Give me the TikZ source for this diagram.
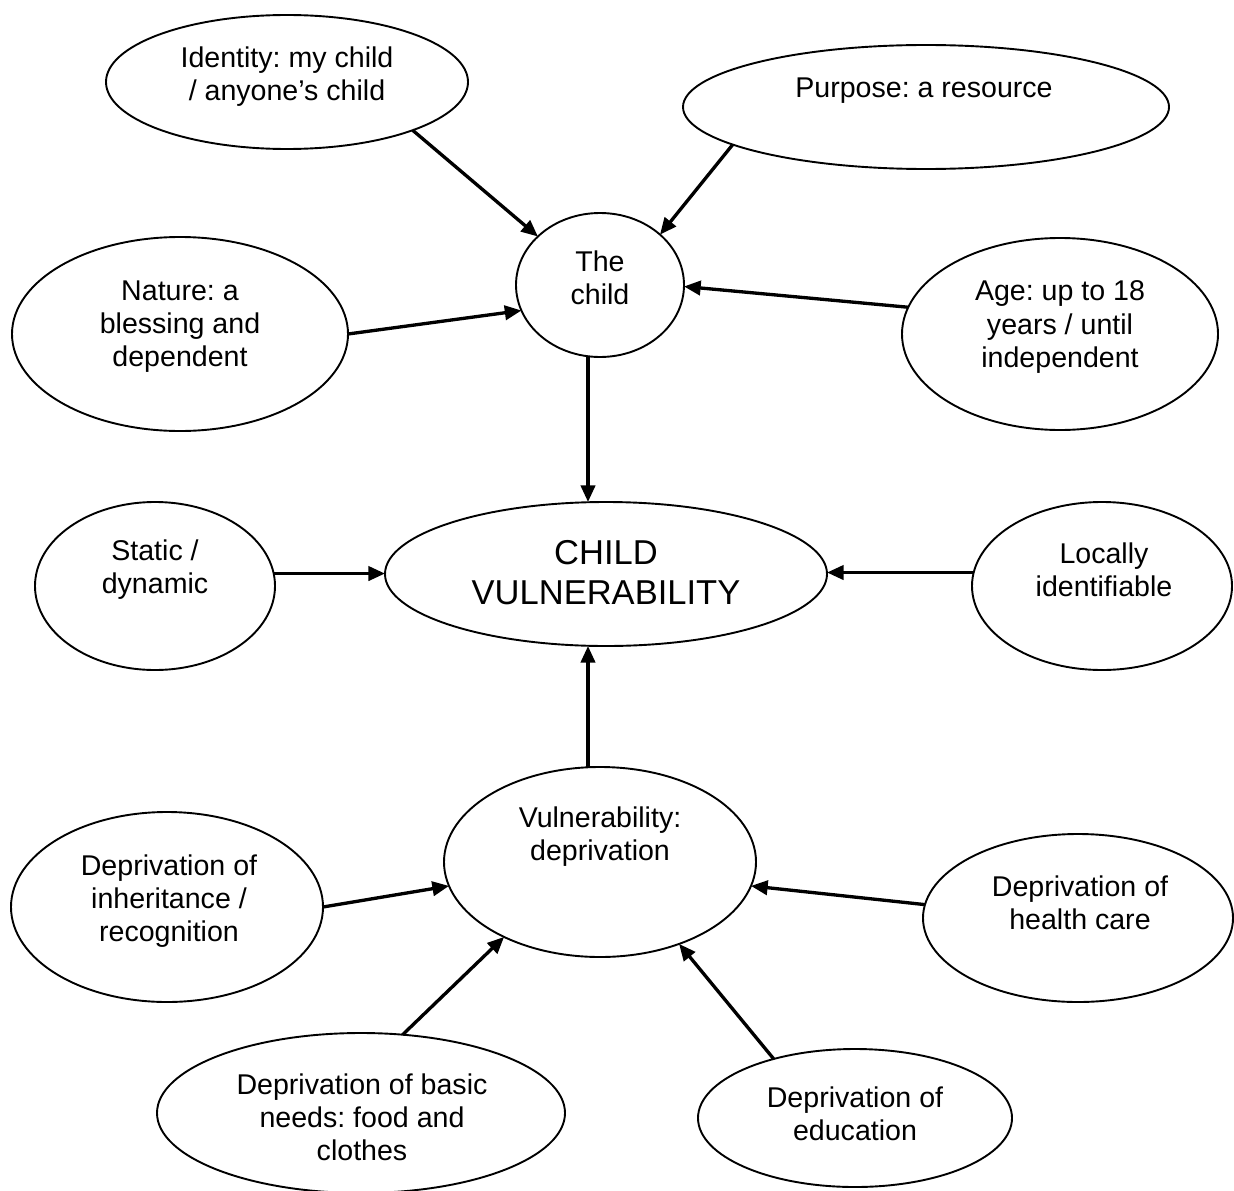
\documentclass[tikz,border=0pt]{standalone}
\usepackage{fontspec}
\setmainfont{Liberation Sans}
\frenchspacing
\usetikzlibrary{shapes.geometric,arrows.meta}
\tikzset{
  bub/.style 2 args={ellipse,draw,line width=0.8pt,inner sep=0pt,outer sep=0pt,
    minimum width=#1*0.84pt,minimum height=#2*0.84pt},
  txt/.style={align=center,inner sep=0pt,font=\fontsize{12}{13.9}\selectfont},
  arr/.style={line width=1.4pt,-{Triangle[length=7pt,width=6pt]}}
}
\begin{document}
\begin{tikzpicture}[x=0.42pt,y=-0.42pt]
\useasboundingbox (0,0) rectangle (1234,1190);
\node[bub={181}{67}] (ident) at (287,82) {};
\node[bub={243}{62}] (purp) at (926,107) {};
\node[bub={84}{72}] (child) at (600,285) {};
\node[bub={168}{97}] (nat) at (180,334) {};
\node[bub={158}{96}] (age) at (1060,334) {};
\node[bub={120}{84}] (stat) at (155,586) {};
\node[bub={221}{72}] (cv) at (606,574) {};
\node[bub={130}{84}] (loc) at (1102,586) {};
\node[bub={156}{95}] (vuln) at (600,862) {};
\node[bub={156}{95}] (inh) at (167,907) {};
\node[bub={155}{84}] (hlth) at (1078,918) {};
\node[bub={204}{80}] (basic) at (361,1113) {};
\node[bub={157}{69}] (edu) at (855,1118) {};
\node[txt] (identtxt) at (287,77) {Identity: my child\\/ anyone’s child};
\node[txt] (purptxt) at (924,91) {Purpose: a resource};
\node[txt] (childtxt) at (600,278) {The\\child};
\node[txt] (nattxt) at (180,327) {Nature: a\\blessing and\\dependent};
\node[txt] (agetxt) at (1060,327) {Age: up to 18\\years / until\\independent};
\node[txt] (stattxt) at (155,570) {Static /\\dynamic};
\node[txt,font=\fontsize{14.5}{16.8}\selectfont] (cvtxt) at (606,573) {CHILD\\VULNERABILITY};
\node[txt] (loctxt) at (1104,570) {Locally\\identifiable};
\node[txt] (vulntxt) at (600,837) {Vulnerability:\\deprivation};
\node[txt] (inhtxt) at (169,901) {Deprivation of\\inheritance /\\recognition};
\node[txt] (hlthtxt) at (1080,903) {Deprivation of\\health care};
\node[txt] (basictxt) at (362,1117) {Deprivation of basic\\needs: food and\\clothes};
\node[txt] (edutxt) at (855,1114) {Deprivation of\\education};
\draw[arr] (ident.-21) -- (child.142);
\draw[arr] (purp.-169) -- (child.40);
\draw[arr] (age.170) -- (child.-1);
\draw[arr] (nat.0) -- (child.-162.6);
\draw[arr] ([xshift=-12*0.42pt]child.south) -- ([xshift=-18*0.42pt]cv.north);
\draw[arr] (stat.6) -- (stat.6 -| cv.west);
\draw[arr] (loc.174) -- (loc.174 -| cv.east);
\draw[arr] ([xshift=-12*0.42pt]vuln.north) -- ([xshift=-18*0.42pt]cv.south);
\draw[arr] (inh.east) -- (vuln.-171.5);
\draw[arr] (hlth.175.5) -- (vuln.-9.3);
\draw[arr] (basic.62) -- (vuln.-142.6);
\draw[arr] (edu.144) -- (vuln.-46.8);
\end{tikzpicture}
\end{document}
